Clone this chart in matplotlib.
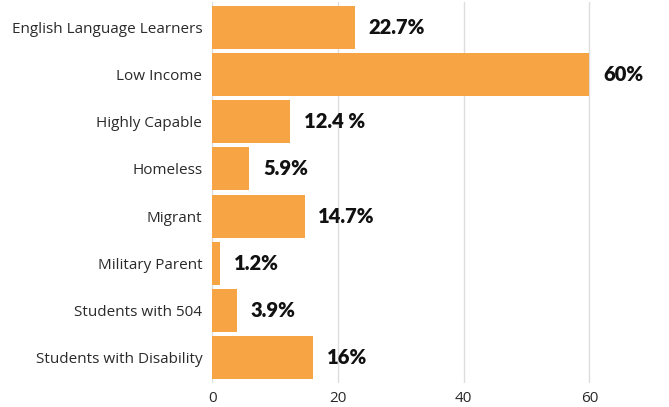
import matplotlib.pyplot as plt

categories = ['English Language Learners', 'Low Income', 'Highly Capable', 'Homeless',
              'Migrant', 'Military Parent', 'Students with 504', 'Students with Disability']
values = [22.7, 60, 12.4, 5.9, 14.7, 1.2, 3.9, 16]
value_labels = ['22.7%', '60%', '12.4 %', '5.9%', '14.7%', '1.2%', '3.9%', '16%']
xticks = [0, 20, 40, 60]

fig = plt.figure(figsize=(6.69, 4.07), dpi=100)
ax = fig.add_axes([0.317, 0.059, 0.676, 0.936])

ax.barh(categories, values, height=0.91, color='#F7A444', zorder=2)   # bars
for i, (v, lab) in enumerate(zip(values, value_labels)):
    ax.annotate(lab, (v, i), xytext=(10, 0), textcoords='offset points',
                va='center', ha='left', fontsize=14.5, fontweight='heavy',
                family='Lato', color='#111111')

ax.set_xlim(0, 71.9)
ax.set_ylim(7.53, -0.53)
ax.set_xticks(xticks)
ax.grid(axis='x', color='#DDDDDD', linewidth=1, zorder=0)
for s in ax.spines.values():
    s.set_visible(False)
ax.tick_params(axis='both', length=0, labelsize=11, labelcolor='#2a2a2a')
ax.tick_params(axis='y', pad=7)
ax.tick_params(axis='x', pad=6)
for t in ax.get_yticklabels() + ax.get_xticklabels():
    t.set_family('Open Sans')

fig.savefig('out.png', dpi=100)
